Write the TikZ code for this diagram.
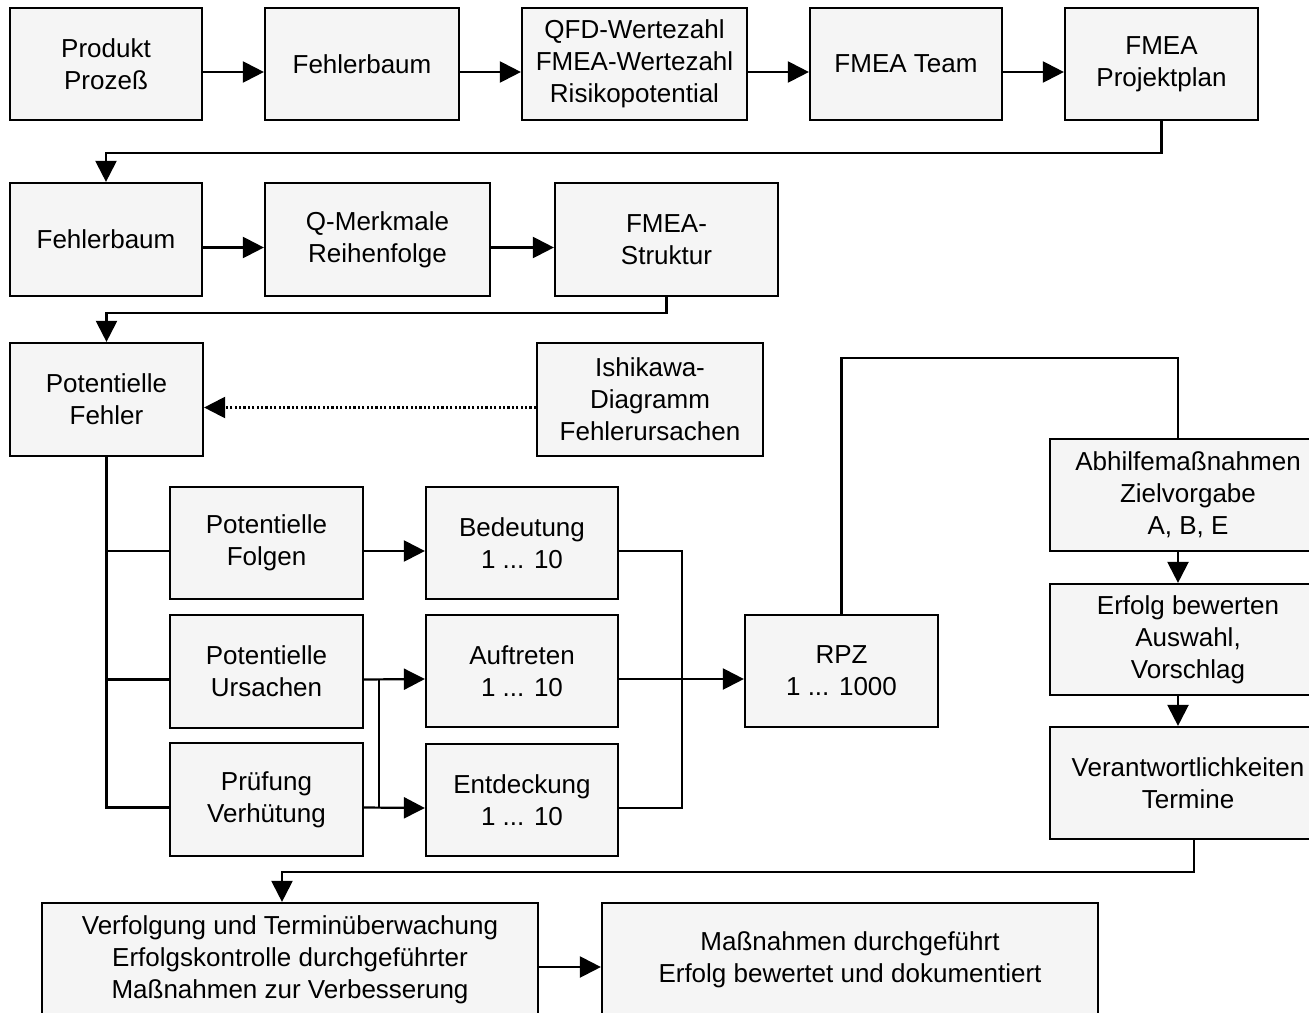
\documentclass[tikz,border=0pt]{standalone}
\usepackage{fontspec}
\setmainfont{Liberation Sans}
\usetikzlibrary{arrows.meta,calc}

\definecolor{boxgray}{HTML}{F5F5F5}

% box given by its corners: name, x1, y1, x2, y2, text
\newcommand\flowbox[6]{%
  \node[box, minimum width={#4pt-#2pt}, minimum height={#5pt-#3pt}]
    (#1) at ({(#2+#4)/2},{(#3+#5)/2}) {#6};}

\begin{document}
\begin{tikzpicture}[x=1pt,y=-1pt,
  box/.style={draw=black, fill=boxgray, line width=2.2pt, inner sep=0pt,
    align=center, text=black, font=\fontsize{26}{32}\selectfont},
  link/.style={line width=2.2pt},
  arr/.style={link, -{Triangle[length=21pt,width=21pt]}},
  dots/.style={dash pattern=on 2.2pt off 2.2pt}]

\useasboundingbox (0,0) rectangle (1309,1012);
\clip (0,0) rectangle (1309,1012);

% first row
\flowbox{prod}{10}{8}{202}{120}{Produkt\\Prozeß}
\flowbox{fbA}{265}{8}{459}{120}{Fehlerbaum}
\flowbox{qfd}{522}{8}{747}{120}{QFD-Wertezahl\\FMEA-Wertezahl\\Risikopotential}
\flowbox{team}{810}{8}{1002}{120}{FMEA Team}
\flowbox{plan}{1065}{8}{1258}{120}{FMEA\\Projektplan}

% second row
\flowbox{fbB}{10}{183}{202}{296}{Fehlerbaum}
\flowbox{qm}{265}{183}{490}{296}{Q-Merkmale\\Reihenfolge}
\flowbox{struk}{555}{183}{778}{296}{FMEA-\\Struktur}

% failure analysis
\flowbox{pf}{10}{343}{203}{456}{Potentielle\\Fehler}
\flowbox{ishi}{537}{343}{763}{456}{Ishikawa-\\Diagramm\\Fehlerursachen}
\flowbox{folg}{170}{487}{363}{599}{Potentielle\\Folgen}
\flowbox{urs}{170}{615}{363}{728}{Potentielle\\Ursachen}
\flowbox{pruef}{170}{743}{363}{856}{Prüfung\\Verhütung}
\flowbox{bed}{426}{487}{618}{599}{Bedeutung\\1 ... 10}
\flowbox{auf}{426}{615}{618}{727}{Auftreten\\1 ... 10}
\flowbox{ent}{426}{744}{618}{856}{Entdeckung\\1 ... 10}
\flowbox{rpz}{745}{615}{938}{727}{RPZ\\1 ... 1000}

% measures
\flowbox{abh}{1050}{439}{1326}{551}{Abhilfemaßnahmen\\Zielvorgabe\\A, B, E}
\flowbox{erf}{1050}{584}{1326}{695}{Erfolg bewerten\\Auswahl,\\Vorschlag}
\flowbox{ver}{1050}{727}{1326}{839}{Verantwortlichkeiten\\Termine}
\flowbox{verf}{42}{903}{538}{1017}{Verfolgung und Terminüberwachung\\Erfolgskontrolle durchgeführter\\Maßnahmen zur Verbesserung}
\flowbox{mass}{602}{903}{1098}{1017}{Maßnahmen durchgeführt\\Erfolg bewertet und dokumentiert}

% first row connectors
\draw[arr] ([yshift=-8pt]prod.east) -- ([yshift=-8pt]fbA.west);
\draw[arr] ([yshift=-8pt]fbA.east) -- ([yshift=-8pt]qfd.west);
\draw[arr] ([yshift=-8pt]qfd.east) -- ([yshift=-8pt]team.west);
\draw[arr] ([yshift=-8pt]team.east) -- ([yshift=-8pt]plan.west);
\draw[arr] (plan.south) -- ++(0,32) -| (fbB.north);

% second row connectors
\draw[arr] ([yshift=-8pt]fbB.east) -- ([yshift=-8pt]qm.west);
\draw[arr] ([yshift=-8pt]qm.east) -- ([yshift=-8pt]struk.west);
\draw[arr] (struk.south) -- ++(0,16) -| (pf.north);

% cause diagram feeds the failure box
\draw[arr, dots] ([yshift=-8pt]ishi.west) -- ([yshift=-8pt]pf.east);

% trunk with branches
\coordinate (brA) at ([yshift=-8pt]folg.west);
\coordinate (brB) at ([yshift=-8pt]urs.west);
\draw[link] (pf.south) |- ([yshift=-8pt]pruef.west);
\draw[link] (brA) -- (brA -| pf.south);
\draw[link] (brB) -- (brB -| pf.south);

% ratings
\draw[arr] ([yshift=-8pt]folg.east) -- ([yshift=-8pt]bed.west);
\draw[arr] ([yshift=-8pt]urs.east) -- ([yshift=-8pt]auf.west);
\draw[arr] ([yshift=-8pt]pruef.east) -- ([yshift=-8pt]ent.west);
\coordinate (jA) at ($([yshift=-8pt]urs.east)+(15,0)$);
\coordinate (jB) at ($([yshift=-8pt]pruef.east)+(15,0)$);
\draw[link] (jA) -- (jB);

% risk priority number
\draw[link] ([yshift=-8pt]bed.east) -- ++(63,0) |- ([yshift=-8pt]ent.east);
\draw[arr] ([yshift=-8pt]auf.east) -- ([yshift=-8pt]rpz.west);
\draw[link] (rpz.north) -- ++(0,-256) -| ([xshift=-10pt]abh.north);

% measures chain
\draw[arr] ([xshift=-10pt]abh.south) -- ([xshift=-10pt]erf.north);
\draw[arr] ([xshift=-10pt]erf.south) -- ([xshift=-10pt]ver.north);
\draw[arr] ([xshift=6pt]ver.south) -- ++(0,32) -| ([xshift=-8pt]verf.north);
\draw[arr] ([yshift=-7pt]verf.east) -- ([yshift=-7pt]mass.west);

\end{tikzpicture}
\end{document}
